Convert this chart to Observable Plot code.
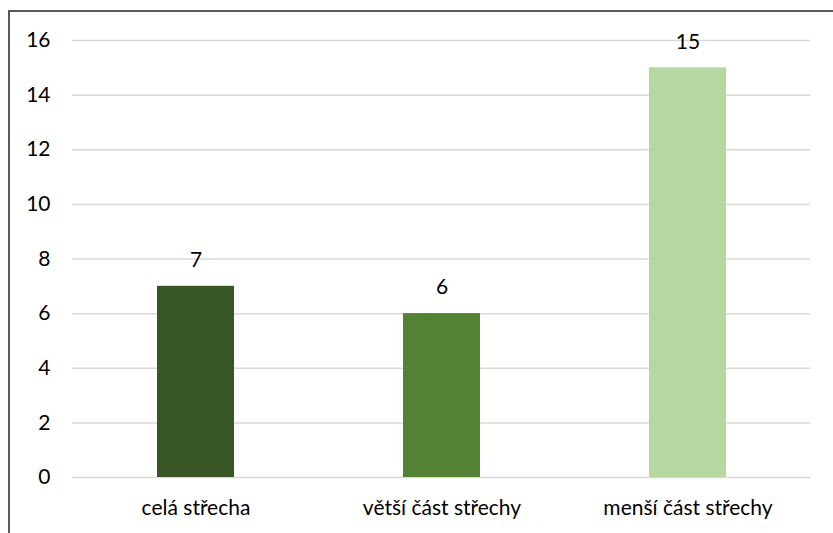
<!DOCTYPE html>
<html>
<head>
<meta charset="utf-8">
<script src="https://cdn.jsdelivr.net/npm/d3@7"></script>
<script src="https://cdn.jsdelivr.net/npm/@observablehq/plot@0.6"></script>
<style>
  html, body { margin: 0; padding: 0; background: #fff; overflow: hidden; }
  #wrap { position: relative; width: 833px; height: 533px; }
  #border { position: absolute; left: 8px; top: 10px; width: 900px; height: 900px;
            border: 2px solid #5a5a5a; box-sizing: border-box; pointer-events: none; }
</style>
</head>
<body>
<div id="wrap"><div id="border"></div></div>
<script>
const categories = ["celá střecha", "větší část střechy", "menší část střechy"];
const values = [7, 6, 15];
const colors = ["#375623", "#548235", "#B6D8A0"];
const yTicks = [0, 2, 4, 6, 8, 10, 12, 14, 16];

const data = categories.map((c, i) => ({category: c, value: values[i], color: colors[i]}));

const chart = Plot.plot({
  width: 833,
  height: 533,
  marginLeft: 72,
  marginRight: 23,
  marginTop: 40,
  marginBottom: 56,
  style: {fontFamily: "Lato, sans-serif", fontSize: "21px", color: "#000", background: "transparent"},
  x: {domain: categories, paddingInner: 0.687, paddingOuter: 0.3435, align: 0.5, label: null, tickSize: 0, tickPadding: 23},
  y: {domain: [0, 16], ticks: yTicks, label: null, tickSize: 0, tickPadding: 22, tickFormat: d => d},
  marks: [
    Plot.gridY(yTicks, {stroke: "#d9d9d9", strokeOpacity: 1, strokeWidth: 1.5}),
    Plot.barY(data, {x: "category", y: "value", fill: "color"}),
    Plot.text(data, {x: "category", y: "value", text: d => String(d.value), dy: -26, fill: "#000", fontSize: 21})
  ]
});
document.getElementById("wrap").appendChild(chart);
chart.style.position = "absolute";
chart.style.left = "0";
chart.style.top = "0";
</script>
</body>
</html>
